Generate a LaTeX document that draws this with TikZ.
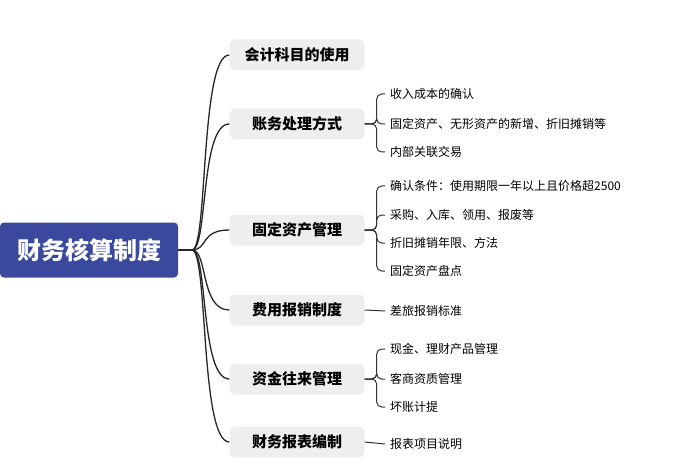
\documentclass[tikz,border=0pt]{standalone}
\usepackage{fontspec}
\setmainfont{Noto Sans CJK SC}
\begin{document}
\begin{tikzpicture}[x=1pt,y=-1pt,
  root/.style={fill={rgb,255:red,58;green,72;blue,158},rounded corners=4pt,text=white,font=\fontsize{24}{26}\selectfont\bfseries,minimum width=178pt,minimum height=55pt,inner sep=0pt},
  br/.style={fill={rgb,255:red,238;green,238;blue,238},rounded corners=6pt,font=\fontsize{15}{17}\selectfont\bfseries,minimum width=135pt,minimum height=31pt,inner sep=0pt},
  lf/.style={anchor=west,font=\fontsize{12}{14}\selectfont,inner sep=0pt},
  ln/.style={line width=1.3pt,black!85},
  sl/.style={line width=1pt,black!80}]
\useasboundingbox (0,0) rectangle (700,470);
\node[root] (r) at (89,250) {财务核算制度};
\coordinate (f) at (192,250);
\draw[ln] (r.east) -- (f);
\foreach \n/\y/\t in {b1/55/会计科目的使用,b2/124/账务处理方式,b3/230/固定资产管理,b4/310/费用报销制度,b5/379/资金往来管理,b6/442/财务报表编制}{
  \node[br] (\n) at (297,\y) {\t};
  \draw[ln] (f) .. controls (208,250) and (200,\y) .. (\n.west);
}
\foreach \b/\s/\y/\t in {b2/l21/94/收入成本的确认,b2/l22/124/固定资产、无形资产的新增、折旧摊销等,b2/l23/152/内部关联交易,
  b3/l31/186/确认条件：使用期限一年以上且价格超2500,b3/l32/215/采购、入库、领用、报废等,b3/l33/243/折旧摊销年限、方法,b3/l34/271/固定资产盘点,
  b4/l41/311/差旅报销标准,
  b5/l51/349/现金、理财产品管理,b5/l52/379/客商资质管理,b5/l53/407/坏账计提,
  b6/l61/444/报表项目说明}{
  \node[lf] (\s) at (390,\y) {\t};
}
\foreach \b/\x in {b2/l21,b2/l22,b2/l23,b3/l31,b3/l32,b3/l33,b3/l34,b5/l51,b5/l52,b5/l53}{
  \draw[sl,rounded corners=5pt] (\b.east) -- ([xshift=12pt]\b.east) |- ([xshift=-5pt]\x.west);
}
\draw[sl] (b4.east) -- ([xshift=-5pt]l41.west);
\draw[sl] (b6.east) -- ([xshift=-5pt]l61.west);
\end{tikzpicture}
\end{document}
